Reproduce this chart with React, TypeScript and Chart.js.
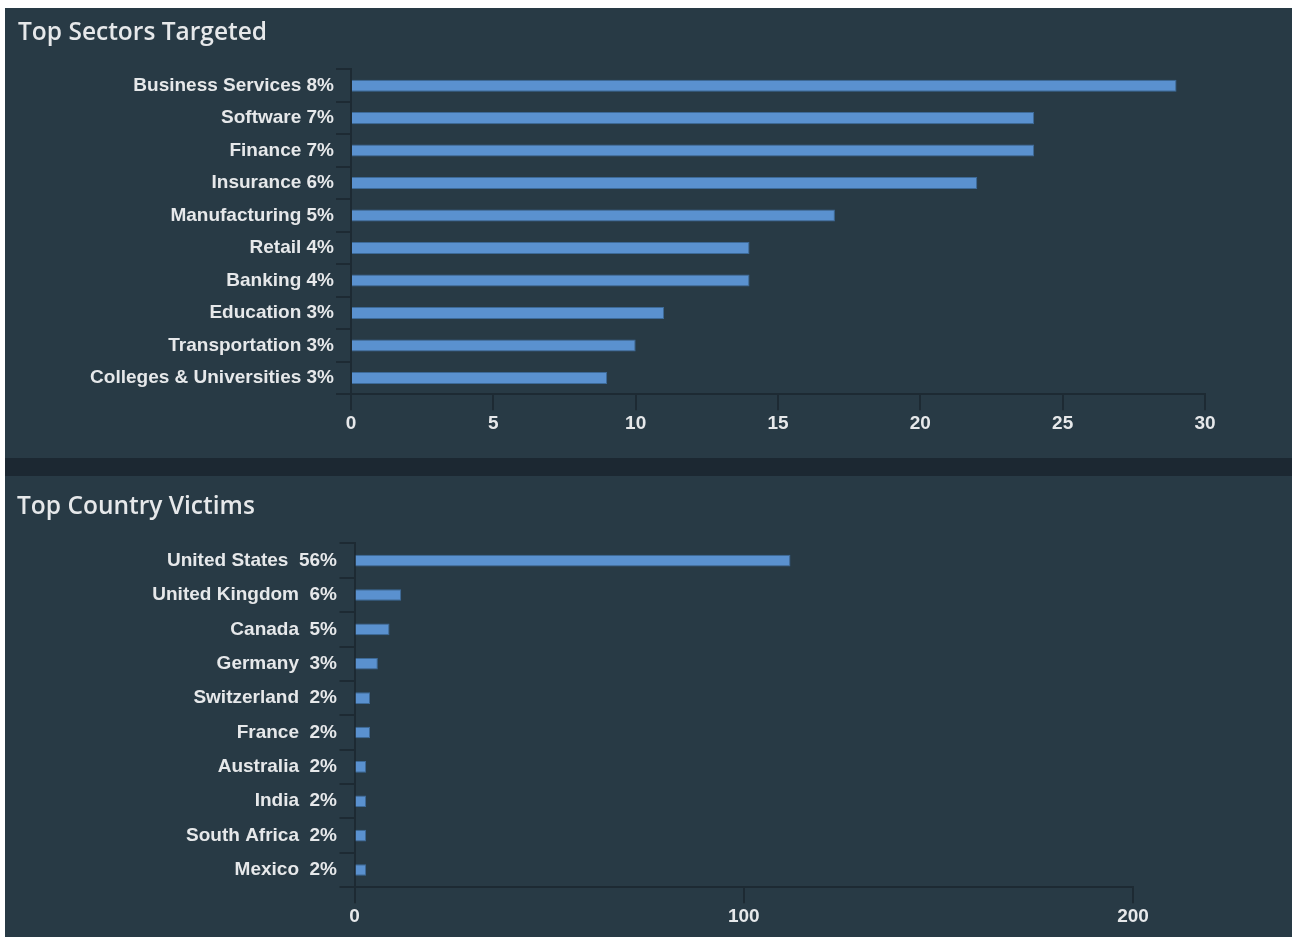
import React, { useEffect, useRef } from "react";
import { Chart, registerables } from "chart.js";

Chart.register(...registerables);

const sectorLabels = [
  "Business Services 8%",
  "Software 7%",
  "Finance 7%",
  "Insurance 6%",
  "Manufacturing 5%",
  "Retail 4%",
  "Banking 4%",
  "Education 3%",
  "Transportation 3%",
  "Colleges & Universities 3%",
];
const sectorValues = [29, 24, 24, 22, 17, 14, 14, 11, 10, 9];
const sectorAxisMax = 30;
const sectorAxisStep = 5;

const countryNames = [
  "United States",
  "United Kingdom",
  "Canada",
  "Germany",
  "Switzerland",
  "France",
  "Australia",
  "India",
  "South Africa",
  "Mexico",
];
const countryPercents = ["56%", "6%", "5%", "3%", "2%", "2%", "2%", "2%", "2%", "2%"];
const countryValues = [112, 12, 9, 6, 4, 4, 3, 3, 3, 3];
const countryAxisMax = 200;
const countryAxisStep = 100;

const countryLabels = countryNames.map((n, i) => n + "  " + countryPercents[i]);

const PANEL = "#283a45";
const SEP = "#1c2832";
const LINE = "#1d2a33";
const TEXT = "#e6e8ea";
const BAR = "#5a91cf";
const BAR_BORDER = "#3d6a98";
const TICK_FONT = { family: "'Liberation Sans', Arial, sans-serif", size: 19, weight: "bold" as any };
const TITLE_FONT = { family: "'Open Sans', sans-serif", size: 24.5, weight: "600" as any };

function SectorsChart() {
  const ref = useRef<HTMLCanvasElement>(null);
  useEffect(() => {
    const chart = new Chart(ref.current!, {
      type: "bar",
      data: {
        labels: sectorLabels,
        datasets: [
          {
            data: sectorValues,
            backgroundColor: BAR,
            borderColor: BAR_BORDER,
            borderWidth: 1,
            barPercentage: 0.37,
            categoryPercentage: 1,
          },
        ],
      },
      options: {
        indexAxis: "y",
        animation: false,
        responsive: true,
        maintainAspectRatio: false,
        layout: { padding: { left: 13, right: 87, top: 0, bottom: 21 } },
        plugins: {
          legend: { display: false },
          tooltip: { enabled: false },
          title: {
            display: true,
            text: "Top Sectors Targeted",
            align: "start",
            color: TEXT,
            font: TITLE_FONT,
            padding: { top: 10, bottom: 22 },
          },
        },
        scales: {
          x: {
            min: 0,
            max: sectorAxisMax,
            ticks: { stepSize: sectorAxisStep, color: TEXT, font: TICK_FONT, padding: 2 },
            grid: { drawOnChartArea: false, color: LINE, tickLength: 16, lineWidth: 2 },
            border: { color: LINE, width: 2 },
          },
          y: {
            ticks: { color: TEXT, font: TICK_FONT, padding: 2 },
            grid: { drawOnChartArea: false, color: LINE, tickLength: 15, lineWidth: 2, offset: true },
            border: { color: LINE, width: 2 },
            afterFit: (s: any) => {
              s.width = 333;
            },
          },
        },
      },
    });
    return () => chart.destroy();
  }, []);
  return (
    <div style={{ position: "relative", width: 1287, height: 450 }}>
      <canvas ref={ref} />
    </div>
  );
}

function CountriesChart() {
  const ref = useRef<HTMLCanvasElement>(null);
  useEffect(() => {
    const chart = new Chart(ref.current!, {
      type: "bar",
      data: {
        labels: countryLabels,
        datasets: [
          {
            data: countryValues,
            backgroundColor: BAR,
            borderColor: BAR_BORDER,
            borderWidth: 1,
            barPercentage: 0.34,
            categoryPercentage: 1,
          },
        ],
      },
      options: {
        indexAxis: "y",
        animation: false,
        responsive: true,
        maintainAspectRatio: false,
        layout: { padding: { left: 12, right: 159, top: 0, bottom: 7 } },
        plugins: {
          legend: { display: false },
          tooltip: { enabled: false },
          title: {
            display: true,
            text: "Top Country Victims",
            align: "start",
            color: TEXT,
            font: TITLE_FONT,
            padding: { top: 16, bottom: 22 },
          },
        },
        scales: {
          x: {
            min: 0,
            max: countryAxisMax,
            ticks: { stepSize: countryAxisStep, color: TEXT, font: TICK_FONT, padding: 2 },
            grid: { drawOnChartArea: false, color: LINE, tickLength: 16, lineWidth: 2 },
            border: { color: LINE, width: 2 },
          },
          y: {
            ticks: { color: TEXT, font: TICK_FONT, padding: 2.5 },
            grid: { drawOnChartArea: false, color: LINE, tickLength: 15, lineWidth: 2, offset: true },
            border: { color: LINE, width: 2 },
            afterFit: (s: any) => {
              s.width = 337.5;
            },
          },
        },
      },
    });
    return () => chart.destroy();
  }, []);
  return (
    <div style={{ position: "relative", width: 1287, height: 461 }}>
      <canvas ref={ref} />
    </div>
  );
}

export default function App() {
  return (
    <div style={{ position: "absolute", left: 5, top: 8, width: 1287, height: 929, background: PANEL }}>
      <SectorsChart />
      <div style={{ height: 18, background: SEP }} />
      <CountriesChart />
    </div>
  );
}
